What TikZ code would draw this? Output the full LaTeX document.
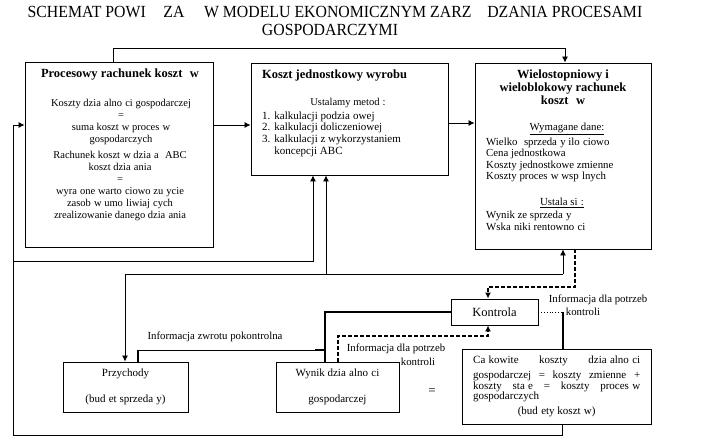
\documentclass[tikz,border=0pt]{standalone}
\usepackage{fontspec}
\setmainfont{Liberation Serif}
\usetikzlibrary{arrows.meta}
\newcommand{\g}{\hspace{0.3em}}
\begin{document}
\begin{tikzpicture}[x=1pt,y=-1pt,
  box/.style={draw, line width=0.9pt, inner sep=0pt},
  conn/.style={line width=0.8pt},
  arr/.style={-{Latex[length=6pt,width=6pt]}},
  thk/.style={line width=1.6pt},
  dsh/.style={line width=1.4pt, dash pattern=on 4pt off 2pt},
  dot/.style={line width=0.8pt, dotted},
  txt/.style={inner sep=0pt, font=\fontsize{10.5}{12}\selectfont},
  ttl/.style={inner sep=0pt, font=\fontsize{12.5}{13}\selectfont\bfseries},
  lbl/.style={inner sep=0pt, font=\fontsize{10.8}{12}\selectfont},
  head/.style={inner sep=0pt, font=\fontsize{17}{18}\selectfont}]
\useasboundingbox (0,0) rectangle (725,438);
% title
\node[head] (title1) at (335,12) {\scalebox{0.93}[1]{SCHEMAT POWI\hspace{19pt}ZA\hspace{21pt}W MODELU EKONOMICZNYM ZARZ\hspace{17pt}DZANIA PROCESAMI}};
\node[head] (title2) at (330,30) {\scalebox{0.93}[1]{GOSPODARCZYMI}};
% boxes
\node[box, minimum width=188pt, minimum height=185pt] (b1) at (119,154.5) {};
\node[box, minimum width=197pt, minimum height=112pt] (b2) at (349.5,119) {};
\node[box, minimum width=176pt, minimum height=186pt] (b3) at (563,156) {};
\node[box, minimum width=87pt, minimum height=26pt, font=\fontsize{12.5}{12}\selectfont] (kon) at (494.5,312) {Kontrola};
\node[box, minimum width=189pt, minimum height=75pt] (cal) at (556.5,386.5) {};
\node[box, minimum width=123pt, minimum height=50pt] (wyn) at (337.5,387) {};
\node[box, minimum width=125pt, minimum height=50pt] (prz) at (125.5,387) {};
% box 1 texts
\node[ttl] (b1t) at (120,75) {Procesowy rachunek koszt\g\g w};
\node[txt, align=center] (b1a) at (121,121.5) {Koszty dzia\g alno\g ci gospodarczej\\=\\suma koszt\g w proces\g w\\gospodarczych};
\node[txt, align=center] (b1b) at (120,186) {Rachunek koszt\g w dzia\g a\g\g ABC\\koszt dzia\g ania\\=\\wyra\g one warto\g ciowo zu\g ycie\\zasob\g w umo\g liwiaj\g cych\\zrealizowanie danego dzia\g ania};
% box 2 texts
\node[ttl] (b2t) at (334.5,76) {Koszt jednostkowy wyrobu};
\node[txt] (b2u) at (348,103) {Ustalamy metod\g :};
\node[txt, anchor=west, font=\fontsize{11}{11.7}\selectfont] (b2l) at (262,134.5) {\begin{tabular}{@{}l@{\hspace{4pt}}l@{}}1. & kalkulacji podzia\g owej\\2. & kalkulacji doliczeniowej\\3. & kalkulacji z wykorzystaniem\\ & koncepcji ABC\end{tabular}};
% box 3 texts
\node[ttl, align=center] (b3t) at (563,87) {Wielostopniowy i\\wieloblokowy rachunek\\koszt\g\g w};
\node[txt, font=\fontsize{10.8}{12}\selectfont] (b3w) at (567,129) {\underline{Wymagane dane:}};
\node[txt, anchor=west, align=left, font=\fontsize{10.8}{11.3}\selectfont] (b3l) at (486,160) {Wielko\g\g sprzeda\g y ilo\g ciowo\\Cena jednostkowa\\Koszty jednostkowe zmienne\\Koszty proces\g w wsp\g lnych};
\node[txt, font=\fontsize{10.8}{12}\selectfont] (b3u) at (562,203) {\underline{Ustala si\g :}};
\node[txt, anchor=west, align=left, font=\fontsize{10.8}{12}\selectfont] (b3r) at (486,221) {Wynik ze sprzeda\g y\\Wska\g niki rentowno\g ci};
% bottom boxes texts
\node[txt, align=center, font=\fontsize{11}{26}\selectfont] (przt) at (125.5,387) {Przychody\\(bud\g et sprzeda\g y)};
\node[txt, align=center, font=\fontsize{11}{26}\selectfont] (wynt) at (337.5,387) {Wynik dzia\g alno\g ci\\gospodarczej};
\node[txt, anchor=north west, align=left, font=\fontsize{11}{12}\selectfont] (calt) at (473,356) {\makebox[167pt][s]{Ca\g kowite koszty dzia\g alno\g ci}\\[3pt]\makebox[167pt][s]{gospodarczej = koszty zmienne +}\\[-1pt]\makebox[167pt][s]{koszty sta\g e = koszty proces\g w}\\[-2pt]gospodarczych\\[3pt]\makebox[167pt][c]{(bud\g ety koszt\g w)}};
% labels
\node[lbl] (l1) at (215,337) {Informacja zwrotu pokontrolna};
\node[lbl] (l2a) at (396,349) {Informacja dla potrzeb};
\node[lbl] (l2b) at (418,362) {kontroli};
\node[lbl] (l3a) at (598,300) {Informacja dla potrzeb};
\node[lbl] (l3b) at (583,312) {kontroli};
\node[lbl, font=\fontsize{13}{13}\selectfont] (eq) at (432,392) {=};
% connectors
\coordinate (t1) at (113,48); \coordinate (t2) at (565,48);
\draw[conn,arr] (t1 |- b1.north) -- (t1) -- (t2) -- (t2 |- b3.north);
\coordinate (a1) at (0,125); \coordinate (a2) at (0,123);
\draw[conn,arr] (b1.east |- a1) -- (b2.west |- a1);
\draw[conn,arr] (b2.east |- a2) -- (b3.west |- a2);
\coordinate (L1) at (562,435); \coordinate (L2) at (13,435); \coordinate (L3) at (13,125);
\draw[conn,arr] (L1 |- cal.south) -- (L1) -- (L2) -- (L3) -- (b1.west |- L3);
\coordinate (L4) at (13,261); \coordinate (L5) at (313,261);
\draw[conn,arr] (L4) -- (L5) -- (L5 |- b2.south);
\coordinate (j1) at (125,274); \coordinate (j2) at (326,274); \coordinate (j3) at (563,274);
\draw[conn] (j1) -- (j3);
\draw[conn,arr] (j1) -- (j1 |- prz.north);
\draw[conn,arr] (j2) -- (j2 |- b2.south);
\draw[conn,arr] (j3) -- (j3 |- b3.south);
\coordinate (k1) at (325,312);
\draw[thk] (kon.west) -- (k1) -- (k1 |- wyn.north);
\coordinate (f1) at (325,350); \coordinate (f2) at (138,350); \coordinate (f3) at (315,350);
\draw[conn] (f1) -- (f2);
\draw[thk] (f3) -- (f1);
\draw[thk] (f2) -- (f2 |- prz.north);
\coordinate (d1) at (338,336); \coordinate (d2) at (488,336);
\draw[dsh,arr] (d1 |- wyn.north) -- (d1) -- (d2) -- (d2 |- kon.south);
\coordinate (d3) at (575,287); \coordinate (d4) at (488,287);
\draw[dsh,arr] (d3 |- b3.south) -- (d3) -- (d4) -- (d4 |- kon.north);
\coordinate (r1) at (563,312);
\draw[dot] (kon.east) -- (r1);
\draw[thk] (r1) -- (r1 |- cal.north);
\end{tikzpicture}
\end{document}
